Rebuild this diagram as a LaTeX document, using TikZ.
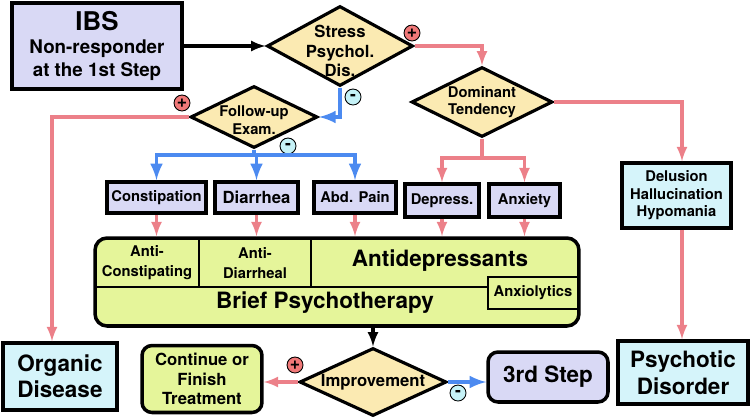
\documentclass[tikz,border=0pt]{standalone}
\usepackage{fontspec}
\setmainfont{TeX Gyre Heros}
\usepackage{tikz}
\usetikzlibrary{arrows}
\usetikzlibrary{positioning,shapes}
\usepackage{xcolor}
\definecolor{lav}{RGB}{217,217,245}
\definecolor{sand}{RGB}{251,234,178}
\definecolor{lime}{RGB}{229,245,154}
\definecolor{ice}{RGB}{213,244,250}
\definecolor{rose}{RGB}{236,128,137}
\definecolor{sky}{RGB}{76,138,240}
\definecolor{plusred}{RGB}{240,120,120}
\definecolor{minuscyan}{RGB}{197,242,247}
\def\F#1#2{\fontsize{#1}{#2}\selectfont}

\begin{document}
\begin{tikzpicture}[%
      x=0.02cm, y=-0.02cm,
      every node/.style={align=center, inner sep=0pt, font=\bfseries},
      bigtxt/.style={font=\bfseries\F{12.8}{14.6}},
      midtxt/.style={font=\bfseries\F{9.5}{11.2}},
      smalltxt/.style={font=\bfseries\F{8.4}{10}},
      box/.style={rectangle, draw, line width=2pt},
      dec/.style={diamond, draw, line width=1.8pt, fill=sand},
      sign/.style={circle, draw, line width=0.5pt, minimum size=0.32cm, font=\bfseries\F{10}{10}},
      plussign/.style={sign, fill=plusred},
      minussign/.style={sign, fill=minuscyan},
      posline/.style={draw=rose, line width=1.8pt},
      negline/.style={draw=sky, line width=2.2pt},
      >=latex
    ]
    \useasboundingbox (0,0) rectangle (750,419);
    \node [] (0) [box, fill=lav, minimum width=3.4cm, minimum height=1.72cm, font=\bfseries\F{10.7}{13}] at (97,46)
      {{\F{14.7}{17}IBS}\\Non-responder\\at the 1st Step};
    \node [] (1) [dec, minimum width=2.92cm, minimum height=1.6cm,
      label={[yshift=-0.1cm, midtxt]center:{Stress\\Psychol.\\Dis.}}] at (340,46) {};
    \node [] (2) [dec, minimum width=2.82cm, minimum height=1.4cm,
      label={[smalltxt]center:{Dominant\\Tendency}}] at (482,102) {};
    \node [] (3) [dec, minimum width=2.54cm, minimum height=1.24cm,
      label={[yshift=-0.06cm, smalltxt]center:{Follow-up\\Exam.}}] at (254,117) {};
    \node [] (4) [box, fill=lav, smalltxt, minimum width=1.98cm, minimum height=0.62cm] at (156.5,197.5) {Constipation};
    \node [] (5) [box, fill=lav, midtxt, minimum width=1.66cm, minimum height=0.62cm] at (256.5,197.5) {Diarrhea};
    \node [] (6) [box, fill=lav, smalltxt, minimum width=1.64cm, minimum height=0.62cm] at (355,197.5) {Abd. Pain};
    \node [] (7) [box, fill=lav, smalltxt, minimum width=1.48cm, minimum height=0.66cm] at (442,200.5) {Depress.};
    \node [] (8) [box, fill=lav, smalltxt, minimum width=1.42cm, minimum height=0.66cm] at (524.5,200.5) {Anxiety};
    \node [] (9) [box, fill=ice, smalltxt, minimum width=2.18cm, minimum height=1.3cm] at (676.5,195.5)
      {Delusion\\Hallucination\\Hypomania};
    % treatment block
    \node [] (10) [box, fill=lime, rounded corners=0.24cm, minimum width=9.68cm, minimum height=1.76cm] at (337,282) {};
    \draw [line width=1.2pt] (97,287) -- (488,287)
      (199,239) -- (199,287) (311,239) -- (311,287)
      (578,277) -- (488,277) -- (488,309) -- (578,309);
    \node [] (10a) [smalltxt, font=\bfseries\F{8.4}{11.4}] at (147,263) {Anti-\\Constipating};
    \node [] (10b) [smalltxt, font=\bfseries\F{8.4}{11.4}] at (255,263) {Anti-\\Diarrheal};
    \node [] (10c) [bigtxt] at (440,261) {Antidepressants};
    \node [] (10d) [bigtxt] at (325,303) {Brief Psychotherapy};
    \node [] (10e) [smalltxt] at (533,293) {Anxiolytics};
    \node [] (11) [dec, minimum width=2.94cm, minimum height=1.36cm,
      label={[midtxt]center:{Improvement}}] at (373,382) {};
    \node [] (12) [box, fill=lime, midtxt, rounded corners=0.2cm, minimum width=2.4cm, minimum height=1.34cm] at (202,379)
      {Continue or\\Finish\\Treatment};
    \node [] (13) [box, fill=lav, bigtxt, rounded corners=0.2cm, minimum width=2.4cm, minimum height=1.0cm] at (548,377)
      {3rd Step};
    \node [] (14) [box, fill=ice, bigtxt, minimum width=2.28cm, minimum height=1.34cm] at (60,376.5)
      {Organic\\Disease};
    \node [] (15) [box, fill=ice, bigtxt, font=\bfseries\F{12.8}{15.5}, minimum width=2.6cm, minimum height=1.26cm] at (683,372.5)
      {Psychotic\\Disorder};
    \coordinate (2b) at (482,158);
    \coordinate (3b) at (254,155);
    % signs
    \node [] (s1) [plussign] at (412,33) {+};
    \node [] (s2) [minussign] at (353,97) {-};
    \node [] (s3) [plussign] at (182,103) {+};
    \node [] (s4) [minussign] at (288,146) {-};
    \node [] (s5) [plussign] at (295,365) {+};
    \node [] (s6) [minussign] at (458,393) {-};
    % connectors
    \draw [line width=1.8pt, ->] (0) -- (1);
    \draw [posline, ->] (1.east) -| (2.north);
    \draw [posline, ->] (2.east) -| ([xshift=0.11cm]9.north);
    \draw [posline] (2.south) -- (2b);
    \draw [posline, ->] (2b) -| (7.north);
    \draw [posline, ->] (2b) -| (8.north);
    \draw [negline, ->] (1.south) |- (3.east);
    \draw [posline, ->] (3.west) -| ([xshift=-0.16cm]14.north);
    \draw [negline] (3.south) -- (3b);
    \draw [negline, ->] (3b) -| (4.north);
    \draw [negline, ->] (3b) -| (5.north);
    \draw [negline, ->] (3b) -| (6.north);
    \path [draw] (4) edge[posline, ->] (4 |- 10.north)
    (5) edge[posline, ->] (5 |- 10.north)
    (6) edge[posline, ->] (6 |- 10.north)
    (7) edge[posline, ->] (7 |- 10.north)
    (8) edge[posline, ->] (8 |- 10.north)
    ;
    \draw [posline, ->] ([xshift=0.11cm]9.south) -- ([xshift=0.11cm]9.south |- 15.north);
    \draw [line width=1.8pt, ->] (11.north |- 10.south) -- (11.north);
    \draw [posline, ->] (11.west) -- (11.west -| 12.east);
    \draw [negline, ->] (11.east) -- (11.east -| 13.west);
  \end{tikzpicture}
\end{document}
